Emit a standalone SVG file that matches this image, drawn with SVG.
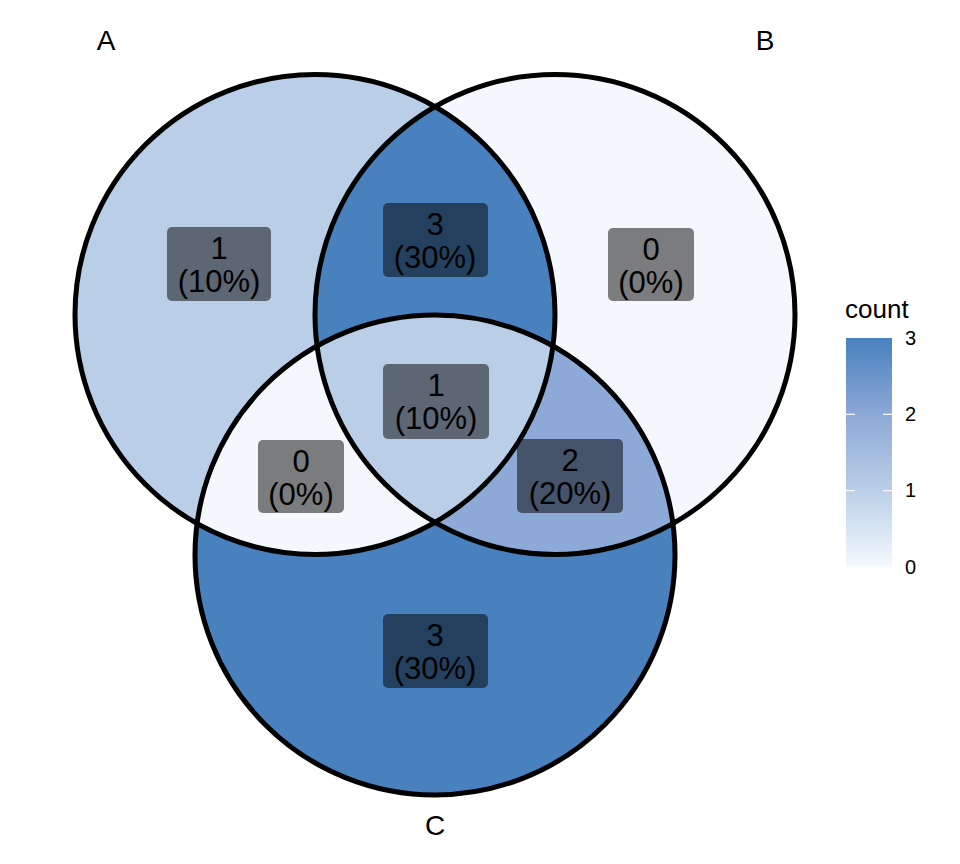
<svg xmlns="http://www.w3.org/2000/svg" width="960" height="864" viewBox="0 0 960 864">
<style>
.lbl{fill:#000;fill-opacity:0.5}
.t{font-family:"Liberation Sans",Arial,sans-serif;font-size:31px;fill:#000;text-anchor:middle}
.set{font-family:"Liberation Sans",Arial,sans-serif;font-size:28px;fill:#000;text-anchor:middle}
.leg{font-family:"Liberation Sans",Arial,sans-serif;font-size:20px;fill:#000}
.edge{fill:none;stroke:#000;stroke-width:5}
</style>
<defs>
<clipPath id="clipA"><circle cx="315" cy="314.5" r="240"/></clipPath>
<clipPath id="clipB"><circle cx="555" cy="314.5" r="240"/></clipPath>
<linearGradient id="grad" x1="0" y1="0" x2="0" y2="1">
<stop offset="0" stop-color="#4981BF"/>
<stop offset="0.333" stop-color="#8CA9D7"/>
<stop offset="0.667" stop-color="#BBCEE7"/>
<stop offset="1" stop-color="#F4FAFE"/>
</linearGradient>
</defs>
<rect width="960" height="864" fill="#FFFFFF"/>
<g id="regions">
<circle id="A_only" cx="315" cy="314.5" r="240" fill="#BBCEE7"/>
<circle id="B_only" cx="555" cy="314.5" r="240" fill="#F4F8FC"/>
<circle id="C_only" cx="435" cy="555" r="240" fill="#4981BF"/>
<g clip-path="url(#clipA)"><circle id="AB" cx="555" cy="314.5" r="240" fill="#4981BF"/></g>
<g clip-path="url(#clipA)"><circle id="AC" cx="435" cy="555" r="240" fill="#F4F8FC"/></g>
<g clip-path="url(#clipB)"><circle id="BC" cx="435" cy="555" r="240" fill="#8CA9D7"/></g>
<g clip-path="url(#clipA)"><g clip-path="url(#clipB)"><circle id="ABC" cx="435" cy="555" r="240" fill="#BBCEE7"/></g></g>
</g>
<g id="edges">
<circle class="edge" cx="315" cy="314.5" r="240"/>
<circle class="edge" cx="555" cy="314.5" r="240"/>
<circle class="edge" cx="435" cy="555" r="240"/>
</g>
<g id="label-A-only"><rect class="lbl" x="167" y="227" width="104" height="74" rx="5"/><text class="t" x="219" y="259">1</text><text class="t" x="219" y="292">(10%)</text></g>
<g id="label-AB"><rect class="lbl" x="383" y="203" width="105" height="74" rx="5"/><text class="t" x="435" y="235">3</text><text class="t" x="435" y="268">(30%)</text></g>
<g id="label-B-only"><rect class="lbl" x="608" y="228" width="86" height="73" rx="5"/><text class="t" x="651" y="260">0</text><text class="t" x="651" y="293">(0%)</text></g>
<g id="label-ABC"><rect class="lbl" x="383" y="364" width="106" height="75" rx="5"/><text class="t" x="436" y="396">1</text><text class="t" x="436" y="429">(10%)</text></g>
<g id="label-AC"><rect class="lbl" x="258" y="440" width="86" height="73" rx="5"/><text class="t" x="301" y="472">0</text><text class="t" x="301" y="505">(0%)</text></g>
<g id="label-BC"><rect class="lbl" x="517" y="439" width="106" height="74" rx="5"/><text class="t" x="570" y="471">2</text><text class="t" x="570" y="504">(20%)</text></g>
<g id="label-C-only"><rect class="lbl" x="383" y="614" width="105" height="74" rx="5"/><text class="t" x="435" y="646">3</text><text class="t" x="435" y="679">(30%)</text></g>
<g id="set-labels">
<text class="set" x="106" y="50">A</text>
<text class="set" x="765" y="50">B</text>
<text class="set" x="435" y="835">C</text>
</g>
<g id="legend">
<text class="leg" x="845" y="318" style="font-size:26px">count</text>
<rect x="846" y="338" width="46" height="229" fill="url(#grad)"/>
<g stroke="#FFFFFF" stroke-width="1.2">
<line x1="846" y1="414.3" x2="855" y2="414.3"/><line x1="883" y1="414.3" x2="892" y2="414.3"/>
<line x1="846" y1="490.7" x2="855" y2="490.7"/><line x1="883" y1="490.7" x2="892" y2="490.7"/>
</g>
<text class="leg" x="905" y="345">3</text>
<text class="leg" x="905" y="421">2</text>
<text class="leg" x="905" y="497">1</text>
<text class="leg" x="905" y="574">0</text>
</g>
</svg>
